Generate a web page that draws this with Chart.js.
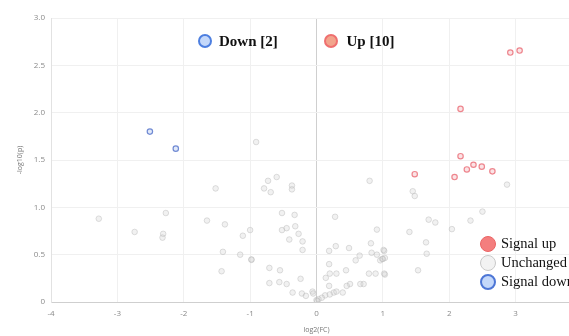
<!DOCTYPE html>
<html>
<head>
<meta charset="utf-8">
<script src="https://cdn.jsdelivr.net/npm/chart.js@4"></script>
<style>
  html, body { margin: 0; padding: 0; background: #fff; }
  #wrap { position: relative; width: 569px; height: 336px; overflow: hidden; }
  #wrap canvas { position: absolute; left: 0; top: 0; }
  .lg { position: absolute; font-family: "Liberation Serif", "DejaVu Serif", serif; color: #111; white-space: nowrap; }
  .dot { position: absolute; border-radius: 50%; box-sizing: border-box; }
</style>
</head>
<body>
<div id="wrap">
  <canvas id="volcano" width="600" height="336"></canvas>
</div>
<script>
// Volcano plot data: [log2(FC), -log10(p)]
const upX = [2.92, 3.06, 2.17, 2.17, 2.365, 2.49, 2.265, 2.65, 2.08, 1.48];
const upY = [2.635, 2.656, 2.04, 1.54, 1.45, 1.43, 1.40, 1.38, 1.32, 1.35];

const downX = [-2.51, -2.12];
const downY = [1.80, 1.62];

const grayX = [
  -3.28, -2.74, -2.27, -2.31, -2.32, -1.52, -0.73, -0.60, -0.79, -0.69,
  -0.37, -0.37, -1.65, -1.38, -0.52, -0.33, -1.00, -1.11, -0.52, -0.45,
  -0.32, -0.27, -0.41, -0.21, -0.21, -1.41, -1.15, -0.98, -0.98, -1.43,
  -0.71, -0.55, -0.71, -0.56, -0.45, -0.24, -0.36, -0.22, -0.16, -0.06,
  0.00, -0.91, 0.80, 1.45, 1.48, 0.28, 1.69, 1.79, 0.91, 1.40,
  2.04, 0.82, 1.65, 0.29, 0.49, 1.02, 0.19, 0.65, 0.59, 0.83,
  0.91, 0.99, 1.03, 0.96, 1.66, 0.19, 0.445, 1.53, 0.20, 0.30,
  0.79, 0.89, 1.03, 0.14, 0.19, 0.505, 0.455, 0.66, 0.71, 0.395,
  0.26, 0.30, 0.20, 0.13, 0.08, 0.03, 0.01, -0.05, 2.87, 2.50,
  2.32, 1.00, 1.01, 1.02
];
const grayY = [
  0.88, 0.74, 0.94, 0.72, 0.68, 1.20, 1.28, 1.32, 1.20, 1.16,
  1.23, 1.19, 0.86, 0.82, 0.94, 0.92, 0.76, 0.70, 0.76, 0.78,
  0.80, 0.72, 0.66, 0.64, 0.55, 0.53, 0.50, 0.445, 0.45, 0.325,
  0.36, 0.335, 0.20, 0.21, 0.19, 0.245, 0.10, 0.09, 0.065, 0.11,
  0.02, 1.69, 1.28, 1.17, 1.12, 0.90, 0.87, 0.84, 0.765, 0.74,
  0.77, 0.62, 0.63, 0.59, 0.57, 0.54, 0.54, 0.49, 0.44, 0.52,
  0.50, 0.455, 0.465, 0.44, 0.51, 0.40, 0.335, 0.335, 0.30, 0.30,
  0.30, 0.30, 0.29, 0.255, 0.17, 0.19, 0.17, 0.19, 0.19, 0.10,
  0.10, 0.11, 0.08, 0.07, 0.045, 0.03, 0.01, 0.09, 1.24, 0.955,
  0.86, 0.455, 0.55, 0.30
];

const xTicksMin = -4, xTicksMax = 4;
const yTicksMin = 0, yTicksMax = 3;

const toPoints = (xs, ys) => xs.map((x, i) => ({ x: x, y: ys[i] }));

const gridColor = (ctx) => (ctx.tick && ctx.tick.value === 0 ? '#cfcfcf' : '#f0f0f0');

const chart = new Chart(document.getElementById('volcano'), {
  type: 'scatter',
  data: {
    datasets: [
      {
        label: 'Unchanged',
        data: toPoints(grayX, grayY),
        pointRadius: 2.8,
        borderWidth: 1,
        borderColor: 'rgba(185,185,185,0.45)',
        backgroundColor: 'rgba(210,210,210,0.3)'
      },
      {
        label: 'Signal up',
        data: toPoints(upX, upY),
        pointRadius: 2.7,
        borderWidth: 1.2,
        borderColor: 'rgba(235,115,125,0.85)',
        backgroundColor: 'rgba(245,185,190,0.4)'
      },
      {
        label: 'Signal down',
        data: toPoints(downX, downY),
        pointRadius: 2.7,
        borderWidth: 1.2,
        borderColor: 'rgba(90,120,205,0.85)',
        backgroundColor: 'rgba(180,200,240,0.4)'
      }
    ]
  },
  options: {
    responsive: false,
    animation: false,
    layout: { padding: { top: 18, right: 18, left: 0, bottom: 0 } },
    plugins: {
      legend: { display: false },
      tooltip: { enabled: false }
    },
    scales: {
      x: {
        type: 'linear',
        min: xTicksMin,
        max: xTicksMax,
        ticks: { stepSize: 1, padding: 7, color: '#8a8a8a', font: { family: 'Open Sans', size: 8 } },
        grid: { color: gridColor, drawTicks: false },
        border: { color: '#cfcfcf' },
        title: { display: true, text: 'log2(FC)', color: '#777', padding: { top: 0, bottom: 2 }, font: { family: 'Open Sans', size: 7 } },
        afterFit: (scale) => { scale.height = 34; }
      },
      y: {
        min: yTicksMin,
        max: yTicksMax,
        ticks: { stepSize: 0.5, padding: 6, color: '#8a8a8a', font: { family: 'Open Sans', size: 8 } },
        grid: { color: gridColor, drawTicks: false },
        border: { color: '#e2e2e2' },
        title: { display: true, text: '-log10(p)', color: '#777', padding: { top: 16, bottom: 0 }, font: { family: 'Open Sans', size: 7 } },
        afterFit: (scale) => { scale.width = 51; }
      }
    }
  }
});

// Legends drawn as overlays
const wrap = document.getElementById('wrap');
const addDot = (cx, cy, r, bw, border, fill) => {
  const d = document.createElement('div');
  d.className = 'dot';
  d.style.left = (cx - r) + 'px';
  d.style.top = (cy - r) + 'px';
  d.style.width = (2 * r) + 'px';
  d.style.height = (2 * r) + 'px';
  d.style.border = bw + 'px solid ' + border;
  d.style.background = fill;
  wrap.appendChild(d);
};
const addText = (x, cy, text, size, bold) => {
  const t = document.createElement('div');
  t.className = 'lg';
  t.textContent = text;
  t.style.left = x + 'px';
  t.style.top = (cy - size * 0.6) + 'px';
  t.style.fontSize = size + 'px';
  t.style.lineHeight = (size * 1.2) + 'px';
  t.style.fontWeight = bold ? 'bold' : 'normal';
  wrap.appendChild(t);
};

// top summary legend
addDot(204.5, 41, 7, 2, '#4d7fe0', '#c4d8fa');
addText(219, 41, 'Down [' + downX.length + ']', 15, true);
addDot(331, 41, 7, 2, '#ef6f6f', '#f2a48c');
addText(346.5, 41, 'Up [' + upX.length + ']', 15, true);

// bottom-right series legend
addDot(488, 244, 8, 1.5, '#ea6464', '#f47e7e');
addText(501, 244, 'Signal up', 14.5, false);
addDot(488, 263, 8, 1.5, '#c8c8c8', '#f2f2f2');
addText(501, 263, 'Unchanged', 14.5, false);
addDot(488, 282, 8, 2, '#4d76d6', '#c4d8fa');
addText(501, 282, 'Signal down', 14.5, false);
</script>
</body>
</html>
